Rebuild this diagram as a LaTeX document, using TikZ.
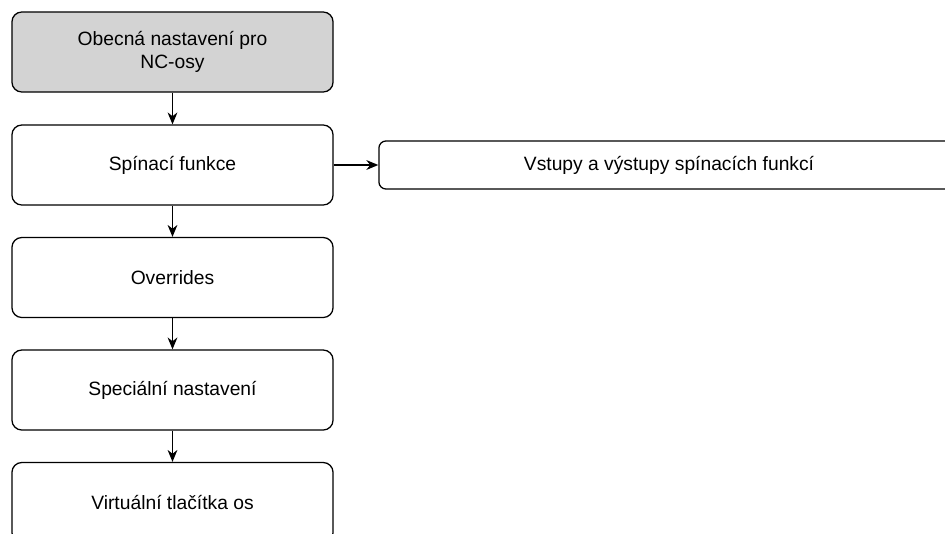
\documentclass[tikz,border=0pt]{standalone}
\usepackage{fontspec}
\setmainfont{Liberation Sans}
\usepackage{tikz}
\usetikzlibrary{arrows.meta}
\definecolor{headgray}{HTML}{D3D3D3}

\begin{document}
\begin{tikzpicture}[x=0.025cm, y=-0.025cm,
          box/.style={rectangle, rounded corners=7pt, draw=black, fill=white,
                      line width=0.9pt, align=center, font=\fontsize{13.7}{16.5}\selectfont,
                      minimum width=8.025cm, minimum height=2cm, inner sep=0pt},
          widebox/.style={box, minimum width=14.5cm, minimum height=1.2cm, rounded corners=5pt},
          arr/.style={-{Stealth[length=8.5pt,width=7pt]}, line width=0.9pt, black}
        ]
        \useasboundingbox (0,0) rectangle (945,533);
        \node[box, fill=headgray] (obec) at (172.5, 52) {Obecná nastavení pro\\NC-osy};
        \node[box] (spin) at (172.5, 165) {Spínací funkce};
        \node[box] (over) at (172.5, 277.5) {Overrides};
        \node[box] (spec) at (172.5, 390) {Speciální nastavení};
        \node[box] (virt) at (172.5, 502.5) {Virtuální tlačítka os};
        \node[widebox] (vstu) at (669, 165) {Vstupy a výstupy spínacích funkcí};

        \draw[arr] (obec.south) -- (spin.north);
        \draw[arr] (spin.south) -- (over.north);
        \draw[arr] (over.south) -- (spec.north);
        \draw[arr] (spec.south) -- (virt.north);
        \draw[arr] (spin.east)  -- (vstu.west);
      \end{tikzpicture}
\end{document}
